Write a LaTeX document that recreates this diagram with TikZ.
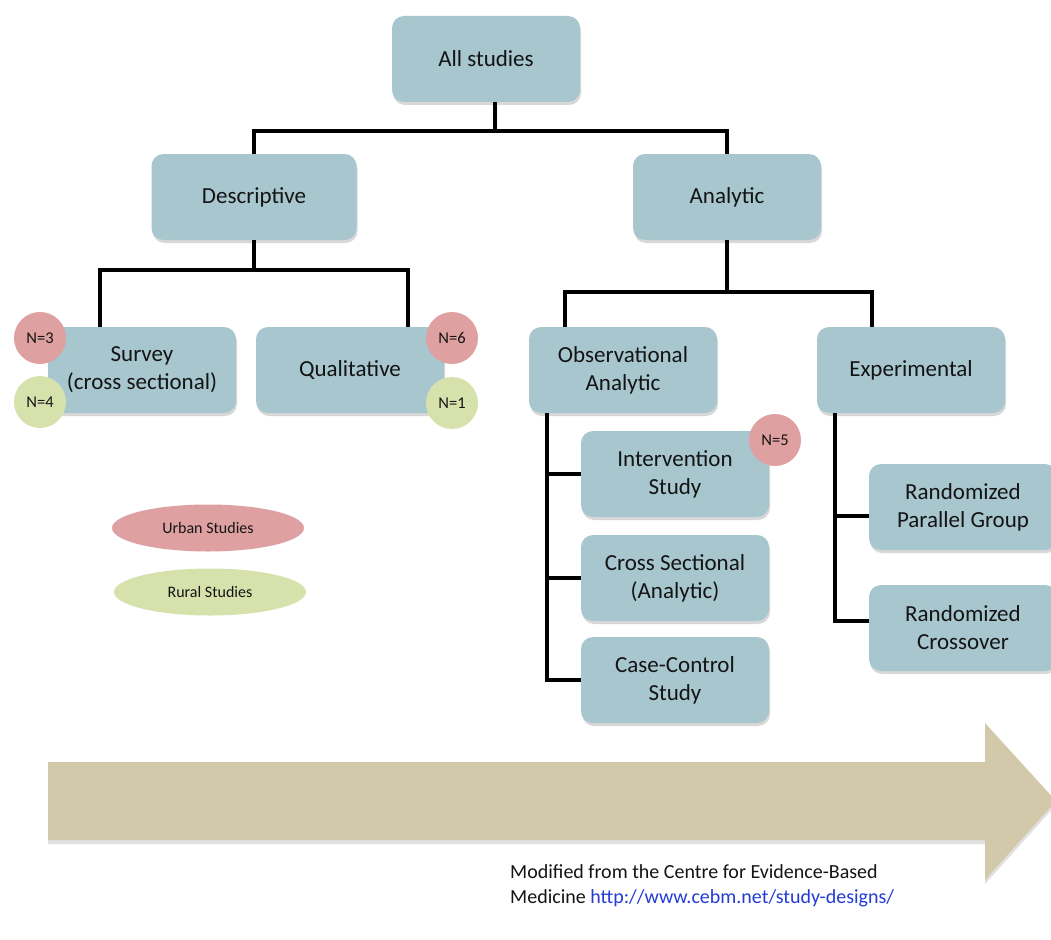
\documentclass[tikz,border=0pt]{standalone}
\usepackage{fontspec}
\setmainfont{Carlito}
\usetikzlibrary{shapes.geometric,shadows}
\definecolor{boxblue}{RGB}{167,198,206}
\definecolor{urbanred}{RGB}{222,160,160}
\definecolor{ruralgreen}{RGB}{214,225,172}
\definecolor{arrowtan}{RGB}{210,201,171}
\definecolor{txt}{RGB}{20,20,20}
\definecolor{linkblue}{RGB}{35,60,215}
\tikzset{
  box/.style={rectangle, rounded corners=12pt, fill=boxblue, minimum width=188pt, minimum height=86pt,
    align=center, text=txt, font=\fontsize{23}{28}\selectfont, inner sep=2pt,
    drop shadow={shadow xshift=1pt, shadow yshift=-3pt, opacity=0.25, fill=black!60}},
  badge/.style={circle, minimum size=52pt, inner sep=0pt, text=txt, font=\fontsize{16.5}{18}\selectfont},
  legend/.style={ellipse, minimum width=192pt, minimum height=47pt, inner sep=0pt, text=txt, font=\fontsize{16}{18}\selectfont},
  conn/.style={draw=black, line width=3.5pt},
}
\begin{document}
\begin{tikzpicture}[x=1pt,y=-1pt]
\clip (0,0) rectangle (1051,939);
\fill[white] (0,0) rectangle (1051,939);

% big arrow
\fill[black!30, opacity=0.4] (48,766) -- (985,766) -- (985,727) -- (1056,805) -- (985,884) -- (985,844) -- (48,844) -- cycle;
\fill[arrowtan] (48,762) -- (985,762) -- (985,723) -- (1056,801) -- (985,880) -- (985,840) -- (48,840) -- cycle;

% boxes
\node[box] (all) at (486,59) {All studies};
\node[box, minimum width=205pt] (desc) at (254,197) {Descriptive};
\node[box] (ana) at (727,197) {Analytic};
\node[box] (survey) at (142,370) {Survey\\(cross sectional)};
\node[box] (qual) at (350,370) {Qualitative};
\node[box] (obs) at (623,370) {Observational\\Analytic};
\node[box] (exp) at (911,370) {Experimental};
\node[box] (int) at (675,474) {Intervention\\Study};
\node[box] (cross) at (675,578) {Cross Sectional\\(Analytic)};
\node[box] (case) at (675,680) {Case-Control\\Study};
\node[box] (par) at (963,507) {Randomized\\Parallel Group};
\node[box] (crossover) at (963,628) {Randomized\\Crossover};

% connectors
\draw[conn] ([xshift=9pt]all.south) -- ++(0,29) coordinate (j1);
\draw[conn] (j1) -| (desc.north);
\draw[conn] (j1) -| (ana.north);
\draw[conn] (desc.south) -- ++(0,30) coordinate (j2);
\draw[conn] (j2) -| ([xshift=-42pt]survey.north);
\draw[conn] (j2) -| ([xshift=58pt]qual.north);
\draw[conn] (ana.south) -- ++(0,52) coordinate (j3);
\draw[conn] (j3) -| ([xshift=-58pt]obs.north);
\draw[conn] (j3) -| ([xshift=-39pt]exp.north);
\draw[conn] ([xshift=-76pt]obs.south) |- (case.west);
\draw[conn] (int.west) -| ([xshift=-76pt]obs.south);
\draw[conn] (cross.west) -| ([xshift=-76pt]obs.south);
\draw[conn] ([xshift=-76pt]exp.south) |- ([yshift=7pt]crossover.west);
\draw[conn] ([yshift=-9pt]par.west) -| ([xshift=-76pt]exp.south);

% badges
\node[badge, fill=urbanred] (n3) at (40,338) {N=3};
\node[badge, fill=ruralgreen] (n4) at (40,402) {N=4};
\node[badge, fill=urbanred] (n6) at (452,338) {N=6};
\node[badge, fill=ruralgreen] (n1) at (452,403) {N=1};
\node[badge, fill=urbanred] (n5) at (775,440) {N=5};

% legend
\node[legend, fill=urbanred] (urban) at (208,528) {Urban Studies};
\node[legend, fill=ruralgreen] (rural) at (210,592) {Rural Studies};

% source
\node[anchor=base west, align=left, text=txt, font=\fontsize{20}{25}\selectfont, inner sep=0pt] (src) at (510,903)
  {Modified from the Centre for Evidence-Based\\Medicine \textcolor{linkblue}{http://www.cebm.net/study-designs/}};
\end{tikzpicture}
\end{document}
